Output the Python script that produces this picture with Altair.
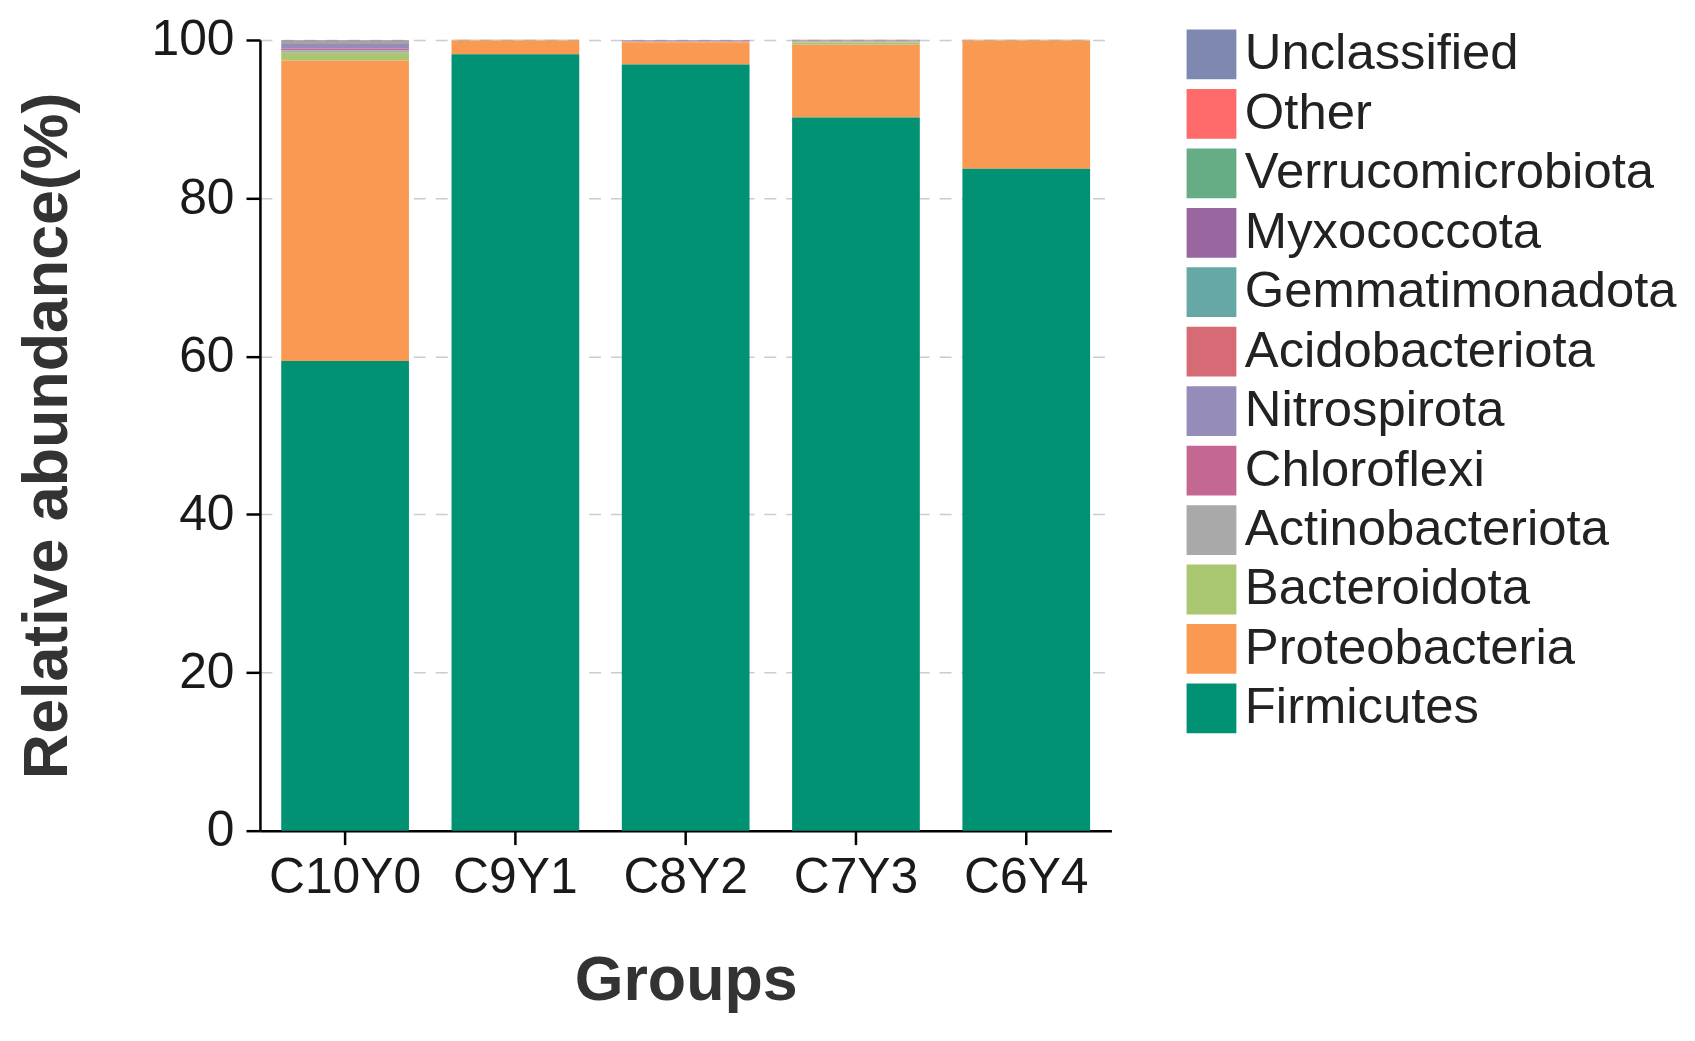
import altair as alt
import pandas as pd

groups = ["C10Y0", "C9Y1", "C8Y2", "C7Y3", "C6Y4"]
taxa = ["Unclassified", "Other", "Verrucomicrobiota", "Myxococcota", "Gemmatimonadota",
        "Acidobacteriota", "Nitrospirota", "Chloroflexi", "Actinobacteriota",
        "Bacteroidota", "Proteobacteria", "Firmicutes"]
colors = ["#7F88B0", "#FF6B6B", "#66AC84", "#9966A0", "#66A8A5", "#D66B75",
          "#958CBA", "#C46892", "#A9A9A9", "#A9C671", "#FA9A52", "#009273"]

firmicutes        = [59.4, 98.2, 96.9, 90.2, 83.7]
proteobacteria    = [38.0, 1.7, 2.8, 9.2, 16.2]
bacteroidota      = [1.0, 0.02, 0.05, 0.3, 0.02]
actinobacteriota  = [0.3, 0.02, 0.03, 0.1, 0.02]
chloroflexi       = [0.2, 0.01, 0.02, 0.03, 0.01]
nitrospirota      = [0.6, 0.02, 0.1, 0.1, 0.02]
acidobacteriota   = [0.1, 0.01, 0.02, 0.02, 0.01]
gemmatimonadota   = [0.1, 0.01, 0.02, 0.02, 0.01]
myxococcota       = [0.1, 0.01, 0.02, 0.02, 0.01]
verrucomicrobiota = [0.1, 0.01, 0.01, 0.02, 0.01]
other             = [0.05, 0.01, 0.02, 0.01, 0.01]
unclassified      = [0.05, 0.01, 0.01, 0.01, 0.01]

series = {
    "Unclassified": unclassified, "Other": other, "Verrucomicrobiota": verrucomicrobiota,
    "Myxococcota": myxococcota, "Gemmatimonadota": gemmatimonadota,
    "Acidobacteriota": acidobacteriota, "Nitrospirota": nitrospirota,
    "Chloroflexi": chloroflexi, "Actinobacteriota": actinobacteriota,
    "Bacteroidota": bacteroidota, "Proteobacteria": proteobacteria, "Firmicutes": firmicutes,
}

rows = []
for t in taxa:
    for g, v in zip(groups, series[t]):
        rows.append({"Group": g, "Taxon": t, "Value": v,
                     "ord": len(taxa) - 1 - taxa.index(t)})
df = pd.DataFrame(rows)

FONT = "Liberation Sans"

chart = alt.Chart(df).mark_bar().encode(
    x=alt.X("Group:N", sort=groups, title="Groups",
            scale=alt.Scale(paddingInner=0.25, paddingOuter=0.125),
            axis=alt.Axis(labelAngle=0, labelFontSize=50, labelColor="#1a1a1a", labelFont=FONT,
                          titleFontSize=63, titleFontWeight="bold", titleColor="#333333",
                          titleFont=FONT, titlePadding=48, tickSize=14, tickColor="#000",
                          domainColor="#000", domainWidth=2.5, tickWidth=2.5, labelPadding=8)),
    y=alt.Y("Value:Q", stack="zero", title="Relative abundance(%)",
            scale=alt.Scale(domain=[0, 100], nice=False),
            axis=alt.Axis(values=[0, 20, 40, 60, 80, 100], labelFontSize=50,
                          labelColor="#1a1a1a", labelFont=FONT,
                          titleFontSize=63, titleFontWeight="bold", titleColor="#333333",
                          titleFont=FONT, titlePadding=72, tickSize=14, tickColor="#000",
                          domainColor="#000", domainWidth=2.5, tickWidth=2.5, labelPadding=12,
                          grid=True, gridDash=[12, 10], gridColor="#cccccc", gridWidth=1.5)),
    color=alt.Color("Taxon:N", scale=alt.Scale(domain=taxa, range=colors),
                    legend=alt.Legend(title=None, labelFontSize=51, labelColor="#222222",
                                      labelFont=FONT, symbolType="square", symbolSize=2500,
                                      symbolStrokeWidth=0, symbolOpacity=1,
                                      rowPadding=7.7, labelOffset=8, orient="none",
                                      legendX=930, legendY=-11, labelLimit=800)),
    order=alt.Order("ord:Q", sort="ascending"),
).properties(
    width=855, height=794,
    autosize=alt.AutoSizeParams(type="none"),
    padding={"left": 253, "top": 30, "right": 578, "bottom": 190},
).configure(font=FONT).configure_view(stroke=None)

chart.save("out.html", embed_options={"renderer": "svg", "actions": False})
